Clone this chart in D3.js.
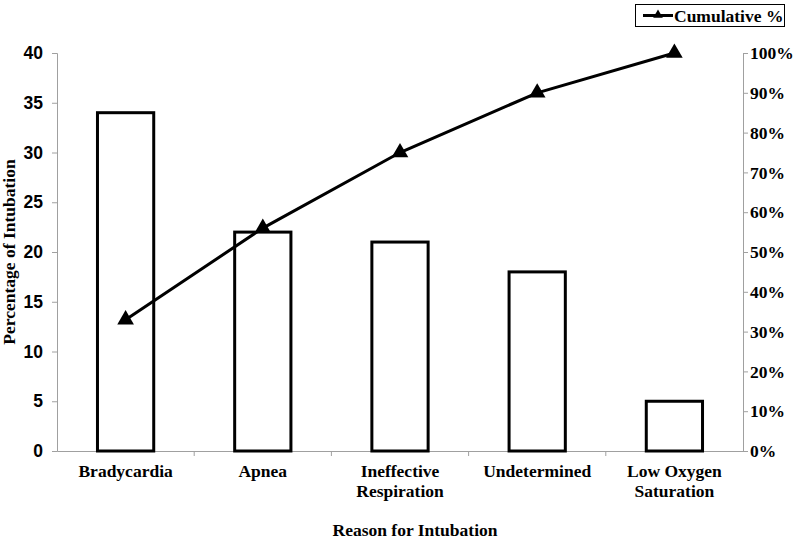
<!DOCTYPE html>
<html><head><meta charset="utf-8">
<script src="https://cdn.jsdelivr.net/npm/d3@7"></script>
<style>body{margin:0;background:#fff}svg{display:block}</style>
</head><body>
<svg id="c" width="800" height="542"></svg>
<script>
const categories = ["Bradycardia","Apnea","Ineffective Respiration","Undetermined","Low Oxygen Saturation"];
const categoryLines = [["Bradycardia"],["Apnea"],["Ineffective","Respiration"],["Undetermined"],["Low Oxygen","Saturation"]];
const percentages = [34,22,21,18,5];
const cumulative = [33,56,75,90,100];
const leftTicks = [0,5,10,15,20,25,30,35,40];
const rightTicks = [0,10,20,30,40,50,60,70,80,90,100];

const svg = d3.select("#c");
const L = 57, R = 743, T = 53, B = 451;
const serif = "'Liberation Serif','Times New Roman',serif";
const sans = "'Liberation Sans',Arial,sans-serif";
const axisColor = "#a0a0a0";
const fs = 17.5;

const x = d3.scaleBand().domain(categories).range([L,R]).paddingInner(0.59).paddingOuter(0.295);
const xb = d3.scaleBand().domain(categories).range([L,R]);
const y = d3.scaleLinear().domain([0,40]).range([B,T]);
const y2 = d3.scaleLinear().domain([0,100]).range([B,T]);

// left axis
const gl = svg.append("g").attr("transform",`translate(${L},0)`)
  .call(d3.axisLeft(y).tickValues(leftTicks).tickSize(5).tickPadding(9));
gl.select(".domain").attr("stroke",axisColor);
gl.selectAll(".tick line").attr("stroke",axisColor);
gl.selectAll(".tick text").attr("font-family",sans).attr("font-weight","bold").attr("font-size",fs).attr("fill","#000");

// right axis
const gr = svg.append("g").attr("transform",`translate(${R},0)`)
  .call(d3.axisRight(y2).tickValues(rightTicks).tickFormat(d=>d+"%").tickSize(5).tickPadding(2));
gr.select(".domain").attr("stroke",axisColor);
gr.selectAll(".tick line").attr("stroke",axisColor);
gr.selectAll(".tick text").attr("font-family",serif).attr("font-weight","bold").attr("font-size",fs).attr("fill","#000");

// x axis
const gx = svg.append("g").attr("transform",`translate(0,${B})`)
  .call(d3.axisBottom(xb).tickValues([]).tickSizeOuter(0));
gx.select(".domain").attr("stroke",axisColor);
xb.domain().slice(1).forEach(c=>{
  gx.append("line").attr("x1",xb(c)).attr("x2",xb(c)).attr("y1",0).attr("y2",5).attr("stroke",axisColor);
});

// bars
svg.append("g").selectAll("rect").data(categories).join("rect")
  .attr("x",d=>x(d)).attr("width",x.bandwidth())
  .attr("y",(d,i)=>y(percentages[i])).attr("height",(d,i)=>B-y(percentages[i]))
  .attr("fill","#fff").attr("stroke","#000").attr("stroke-width",3);

// category labels
const cl = svg.append("g");
categories.forEach((c,i)=>{
  const t = cl.append("text").attr("x",xb(c)+xb.bandwidth()/2).attr("y",477)
    .attr("text-anchor","middle").attr("font-family",serif).attr("font-weight","bold").attr("font-size",fs);
  categoryLines[i].forEach((ln,j)=>t.append("tspan").attr("x",xb(c)+xb.bandwidth()/2).attr("dy",j?20:0).text(ln));
});

// cumulative line
const line = d3.line().x((d,i)=>xb(categories[i])+xb.bandwidth()/2).y(d=>y2(d));
svg.append("path").datum(cumulative).attr("d",line).attr("fill","none").attr("stroke","#000").attr("stroke-width",3);
const tri = d3.symbol().type(d3.symbolTriangle).size(120);
svg.append("g").selectAll("path").data(cumulative).join("path")
  .attr("d",tri).attr("transform",(d,i)=>`translate(${xb(categories[i])+xb.bandwidth()/2},${y2(d)})`).attr("fill","#000");

// axis titles
svg.append("text").attr("transform","translate(15,252) rotate(-90)").attr("text-anchor","middle")
  .attr("font-family",serif).attr("font-weight","bold").attr("font-size",fs).text("Percentage of Intubation");
svg.append("text").attr("x",415).attr("y",536).attr("text-anchor","middle")
  .attr("font-family",serif).attr("font-weight","bold").attr("font-size",fs).text("Reason for Intubation");

// legend
const lg = svg.append("g");
lg.append("rect").attr("x",635.5).attr("y",4.5).attr("width",149).attr("height",22).attr("fill","#fff").attr("stroke","#000").attr("stroke-width",1);
lg.append("line").attr("x1",643).attr("x2",673).attr("y1",15.5).attr("y2",15.5).attr("stroke","#000").attr("stroke-width",3);
lg.append("path").attr("d",d3.symbol().type(d3.symbolTriangle).size(40)).attr("transform","translate(658,15)").attr("fill","#000");
lg.append("text").attr("x",674).attr("y",21.5).attr("font-family",serif).attr("font-weight","bold").attr("font-size",fs).text("Cumulative %");
</script>
</body></html>
